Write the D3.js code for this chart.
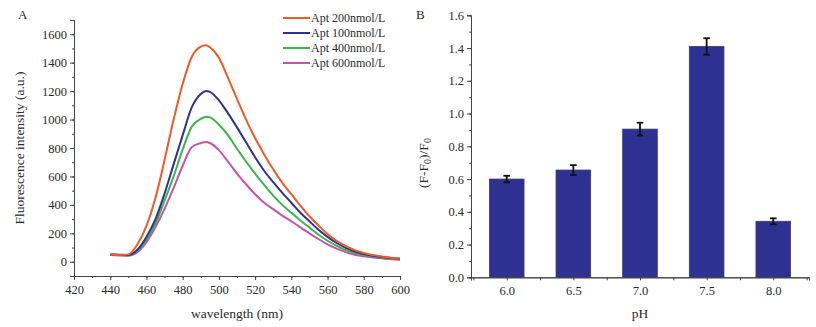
<!DOCTYPE html>
<html>
<head>
<meta charset="utf-8">
<script src="https://cdn.jsdelivr.net/npm/d3@7"></script>
<style>
  body { margin: 0; background: #fff; }
  svg text { font-family: "Liberation Serif", "DejaVu Serif", serif; fill: #2a2a2a; }
  .axis path, .axis line { stroke: #444; }
</style>
</head>
<body>
<div id="container"></div>
<script>
/* DATA */
const wavelengths = [440,445,450,455,460,465,470,475,480,485,490,493,495,500,505,510,515,520,525,530,535,540,545,550,555,560,565,570,575,580,585,590,595,600];
const apt200 = [50,47,52,122,252,450,715,1000,1250,1440,1512,1522,1508,1435,1295,1145,1000,870,755,650,555,475,395,320,255,195,148,112,82,62,47,37,29,23];
const apt100 = [52,50,48,85,175,300,480,685,890,1085,1180,1200,1195,1135,1045,945,840,735,640,560,485,415,345,285,225,175,132,98,72,54,42,33,26,21];
const apt400 = [50,48,45,75,155,270,430,600,790,950,1005,1020,1015,965,890,795,705,620,540,465,400,345,290,240,190,148,112,82,62,47,37,29,23,18];
const apt600 = [48,45,42,68,138,245,372,520,675,805,835,842,835,785,705,620,545,475,415,370,325,285,242,200,160,122,92,68,50,38,30,24,18,15];
const seriesNames = ["Apt 200nmol/L", "Apt 100nmol/L", "Apt 400nmol/L", "Apt 600nmol/L"];
const seriesColors = ["#f15a24", "#2e3192", "#39b54a", "#c852a8"];

const phLabels = ["6.0", "6.5", "7.0", "7.5", "8.0"];
const phValues = [6.0, 6.5, 7.0, 7.5, 8.0];
const ratio = [0.60, 0.655, 0.905, 1.41, 0.342];
const ratioErr = [0.02, 0.03, 0.039, 0.05, 0.018];

/* CONSTANTS */
const width = 816, height = 327;
const svg = d3.select("#container").append("svg")
    .attr("width", width)
    .attr("height", height)

/* ---------- PANEL A ---------- */
const xA = d3.scaleLinear().domain([420, 600]).range([74, 400])
const yA = d3.scaleLinear().domain([-100, 1700]).range([276, 20])

// minor ticks first, then major
svg.append("g").attr("class", "axis")
    .attr("transform", "translate(74,0)")
    .call(d3.axisLeft(yA).tickValues(d3.range(-100, 1701, 100)).tickSize(2).tickFormat(""))
svg.append("g").attr("class", "axis")
    .attr("transform", "translate(74,0)")
    .call(d3.axisLeft(yA).tickValues(d3.range(0, 1601, 200)).tickSize(4).tickPadding(3).tickFormat(d3.format("d")))
    .call(g => g.selectAll("text").style("font-size", "12.5px"))
svg.append("g").attr("class", "axis")
    .attr("transform", "translate(0,276)")
    .call(d3.axisBottom(xA).tickValues(d3.range(420, 601, 10)).tickSize(2).tickFormat(""))
svg.append("g").attr("class", "axis")
    .attr("transform", "translate(0,276)")
    .call(d3.axisBottom(xA).tickValues(d3.range(420, 601, 20)).tickSize(4).tickPadding(5))
    .call(g => g.selectAll("text").style("font-size", "12.5px"))

svg.append("text")
    .attr("transform", "translate(24,148)rotate(-90)")
    .attr("text-anchor", "middle")
    .style("font-size", "13.5px")
    .text("Fluorescence intensity (a.u.)")
svg.append("text")
    .attr("x", 237).attr("y", 318)
    .attr("text-anchor", "middle")
    .style("font-size", "13.5px")
    .text("wavelength (nm)")
svg.append("text")
    .attr("x", 18).attr("y", 19)
    .style("font-size", "13px")
    .text("A")

const allSeries = [apt200, apt100, apt400, apt600];
const line = d3.line()
    .x((d, i) => xA(wavelengths[i]))
    .y(d => yA(d))
    .curve(d3.curveMonotoneX)

// draw back to front so orange sits on top
allSeries.slice().reverse().forEach((s, j) => {
  const i = allSeries.length - 1 - j;
  svg.append("path")
      .datum(s)
      .attr("fill", "none")
      .attr("stroke", seriesColors[i])
      .attr("stroke-width", 2)
      .attr("d", line)
})

// legend
seriesNames.forEach((name, i) => {
  svg.append("line")
      .attr("x1", 283).attr("x2", 310)
      .attr("y1", 18 + i*15).attr("y2", 18 + i*15)
      .attr("stroke", seriesColors[i])
      .attr("stroke-width", 2)
  svg.append("text")
      .attr("x", 311).attr("y", 18 + i*15)
      .attr("dy", "0.35em")
      .style("font-size", "12px")
      .text(name)
})

/* ---------- PANEL B ---------- */
const xB = d3.scaleLinear().domain([5.732, 8.268]).range([471, 809])
const yB = d3.scaleLinear().domain([0, 1.6]).range([277.3, 15.3])
const barW = xB(6.13) - xB(6.0)

svg.append("g").attr("class", "axis")
    .attr("transform", "translate(471,0)")
    .call(d3.axisLeft(yB).tickValues(d3.range(0, 16).map(d => d/10)).tickSize(2).tickFormat(""))
svg.append("g").attr("class", "axis")
    .attr("transform", "translate(471,0)")
    .call(d3.axisLeft(yB).tickValues(d3.range(0, 9).map(d => d/5)).tickSize(4).tickPadding(3).tickFormat(d3.format(".1f")))
    .call(g => g.selectAll("text").style("font-size", "12.5px"))

svg.selectAll("rect.bar")
    .data(ratio)
    .join("rect")
    .attr("class", "bar")
    .attr("x", (d, i) => xB(phValues[i]) - barW)
    .attr("width", barW*2)
    .attr("y", d => yB(d))
    .attr("height", d => yB(0) - yB(d))
    .attr("fill", "#2e3192")
    .attr("stroke", "#3c3c6a")
    .attr("stroke-width", 0.8)

svg.append("g").attr("class", "axis")
    .attr("transform", "translate(0,277.3)")
    .call(d3.axisBottom(xB).tickValues([5.75, 6.25, 6.75, 7.25, 7.75, 8.25]).tickSize(3).tickFormat(""))
svg.append("g").attr("class", "axis")
    .attr("transform", "translate(0,277.3)")
    .call(d3.axisBottom(xB).tickValues(phValues).tickSize(3).tickPadding(6).tickFormat((d, i) => phLabels[i]))
    .call(g => g.selectAll("text").style("font-size", "12.5px"))

// error bars
const err = svg.append("g").attr("stroke", "#111").attr("stroke-width", 1.8)
ratio.forEach((v, i) => {
  const cx = xB(phValues[i]);
  err.append("line").attr("x1", cx).attr("x2", cx)
      .attr("y1", yB(v + ratioErr[i])).attr("y2", yB(v - ratioErr[i]))
  err.append("line").attr("x1", cx - 3.3).attr("x2", cx + 3.3)
      .attr("y1", yB(v + ratioErr[i])).attr("y2", yB(v + ratioErr[i]))
  err.append("line").attr("x1", cx - 3.3).attr("x2", cx + 3.3)
      .attr("y1", yB(v - ratioErr[i])).attr("y2", yB(v - ratioErr[i]))
})

const yTitle = svg.append("text")
    .attr("transform", "translate(428,163)rotate(-90)")
    .attr("text-anchor", "middle")
    .style("font-size", "13.5px")
yTitle.append("tspan").text("(F-F")
yTitle.append("tspan").attr("baseline-shift", "-25%").style("font-size", "10px").text("0")
yTitle.append("tspan").text(")/F")
yTitle.append("tspan").attr("baseline-shift", "-25%").style("font-size", "10px").text("0")

svg.append("text")
    .attr("x", 640).attr("y", 318)
    .attr("text-anchor", "middle")
    .style("font-size", "13.5px")
    .text("pH")
svg.append("text")
    .attr("x", 416).attr("y", 19)
    .style("font-size", "13px")
    .text("B")
</script>
</body>
</html>
